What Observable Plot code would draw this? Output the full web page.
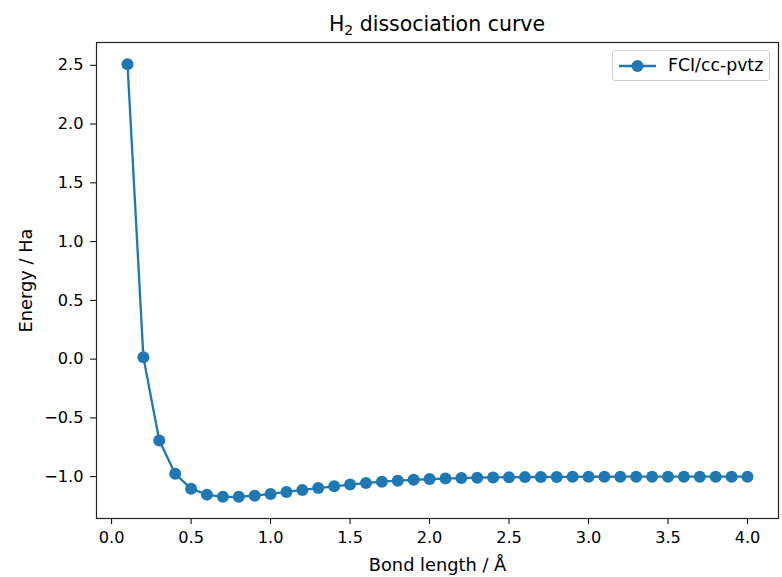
<!DOCTYPE html>
<html><head><meta charset="utf-8">
<script src="https://cdn.jsdelivr.net/npm/d3@7"></script>
<script src="https://cdn.jsdelivr.net/npm/@observablehq/plot@0.6"></script>
<style>
body{margin:0;background:#fff;font-family:"DejaVu Sans",sans-serif;}
#wrap{position:relative;width:782px;height:577px;}
#title{position:absolute;left:96px;width:682px;top:11px;text-align:center;font-size:20.5px;line-height:26px;color:#000;}
#title sub{font-size:14px;vertical-align:-4px;line-height:0;}
#legend{position:absolute;left:612px;top:50px;width:156px;height:29px;border:1px solid #d0d0d0;border-radius:3px;background:rgba(255,255,255,0.8);font-size:17.3px;}
#legend svg{position:absolute;left:5px;top:6.5px;}
#legend span{position:absolute;left:55px;top:4px;line-height:20px;color:#000;}
</style></head>
<body>
<div id="wrap">
<div id="chart"></div>
<div id="title">H<sub>2</sub> dissociation curve</div>
<div id="legend"><svg width="40" height="16"><line x1="1" y1="8" x2="38" y2="8" stroke="#1f77b4" stroke-width="2.3"/><circle cx="19.5" cy="8" r="6" fill="#1f77b4"/></svg><span>FCI/cc-pvtz</span></div>
</div>
<script>
const bondLength = [0.1,0.2,0.3,0.4,0.5,0.6,0.7,0.8,0.9,1.0,1.1,1.2,1.3,1.4,1.5,1.6,1.7,1.8,1.9,2.0,
  2.1,2.2,2.3,2.4,2.5,2.6,2.7,2.8,2.9,3.0,3.1,3.2,3.3,3.4,3.5,3.6,3.7,3.8,3.9,4.0];
const energy = [2.51,0.015,-0.692,-0.976,-1.102,-1.153,-1.172,-1.171,-1.162,-1.147,
  -1.130,-1.113,-1.097,-1.082,-1.067,-1.054,-1.043,-1.034,-1.027,-1.021,
  -1.016,-1.012,-1.009,-1.007,-1.005,-1.004,-1.003,-1.002,-1.0015,-1.001,
  -1.0008,-1.0006,-1.0005,-1.0004,-1.0003,-1.0002,-1.0002,-1.0001,-1.0001,-1.0000];
const xTicks = [0,0.5,1.0,1.5,2.0,2.5,3.0,3.5,4.0];
const yTicks = [-1.0,-0.5,0.0,0.5,1.0,1.5,2.0,2.5];
const seriesName = "FCI/cc-pvtz";

const data = bondLength.map((x, i) => ({x, e: energy[i]}));
const pad = ([a, b]) => [a - (b - a) * 0.05, b + (b - a) * 0.05];
const fmt = d3.format(".1f");

const chart = Plot.plot({
  width: 782, height: 577,
  marginLeft: 96, marginRight: 4, marginTop: 42, marginBottom: 59,
  style: {fontFamily: "DejaVu Sans", fontSize: "16.2px", color: "#000", background: "#fff"},
  x: {domain: pad(d3.extent(bondLength)), ticks: xTicks, tickFormat: fmt, tickSize: 6, tickPadding: 7,
      label: "Bond length / Å", labelAnchor: "center", labelArrow: "none", labelOffset: 52},
  y: {domain: pad(d3.extent(energy)), ticks: yTicks, tickFormat: fmt, tickSize: 6, tickPadding: 7,
      label: "Energy / Ha", labelAnchor: "center", labelArrow: "none", labelOffset: 77},
  marks: [
    Plot.line(data, {x: "x", y: "e", stroke: "#1f77b4", strokeWidth: 2.3}),
    Plot.dot(data, {x: "x", y: "e", fill: "#1f77b4", r: 6}),
    Plot.frame({stroke: "#222", strokeWidth: 1.2})
  ]
});
d3.select(chart).selectAll('g[aria-label="x-axis label"] text, g[aria-label="y-axis label"] text')
  .attr("font-size", "17.8px");
document.getElementById("chart").appendChild(chart);
</script>
</body></html>
